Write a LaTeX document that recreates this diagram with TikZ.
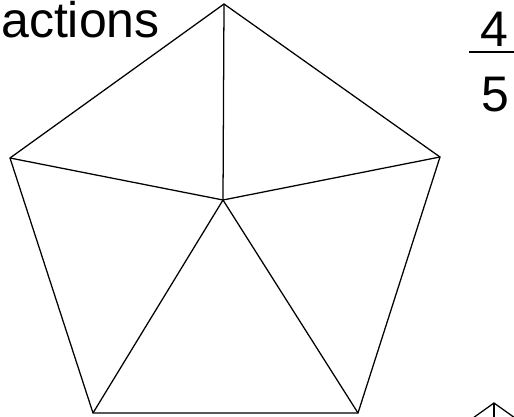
\documentclass[tikz,border=0pt]{standalone}
\usepackage{fontspec}
\setmainfont{Liberation Sans}
\begin{document}
\begin{tikzpicture}[x=0.75pt,y=-0.75pt,
  edge/.style={line width=0.95pt,line join=miter},
  big/.style={font=\fontsize{37.5pt}{40pt}\selectfont,inner sep=0pt}]
\clip (0,0) rectangle (514,417);
\useasboundingbox (0,0) rectangle (514,417);
% pentagon
\coordinate (T) at (224,4);
\coordinate (R) at (440,157);
\coordinate (BR) at (358,413);
\coordinate (BL) at (93,413);
\coordinate (L) at (10,158);
\coordinate (C) at (223,200);
\draw[edge] (T) -- (R) -- (BR) -- (BL) -- (L) -- cycle;
\draw[edge] (C) -- (T);
\draw[edge] (C) -- (R);
\draw[edge] (C) -- (BR);
\draw[edge] (C) -- (BL);
\draw[edge] (C) -- (L);
% cropped second pentagon top
\coordinate (A) at (494,403);
\coordinate (Al) at (466,423);
\coordinate (Ar) at (522,423);
\coordinate (As) at (494,425);
\draw[edge] (Al) -- (A) -- (Ar);
\draw[edge] (A) -- (As);
% title
\node[big,anchor=base west] (title) at (1,37.5) {actions};
% fraction
\node[big,anchor=base] (num) at (494,47) {4};
\node[big,anchor=base] (den) at (495,112) {5};
\coordinate (b1) at (469,52);
\coordinate (b2) at (516,52);
\draw[line width=2pt] (b1) -- (b2);
\end{tikzpicture}
\end{document}
